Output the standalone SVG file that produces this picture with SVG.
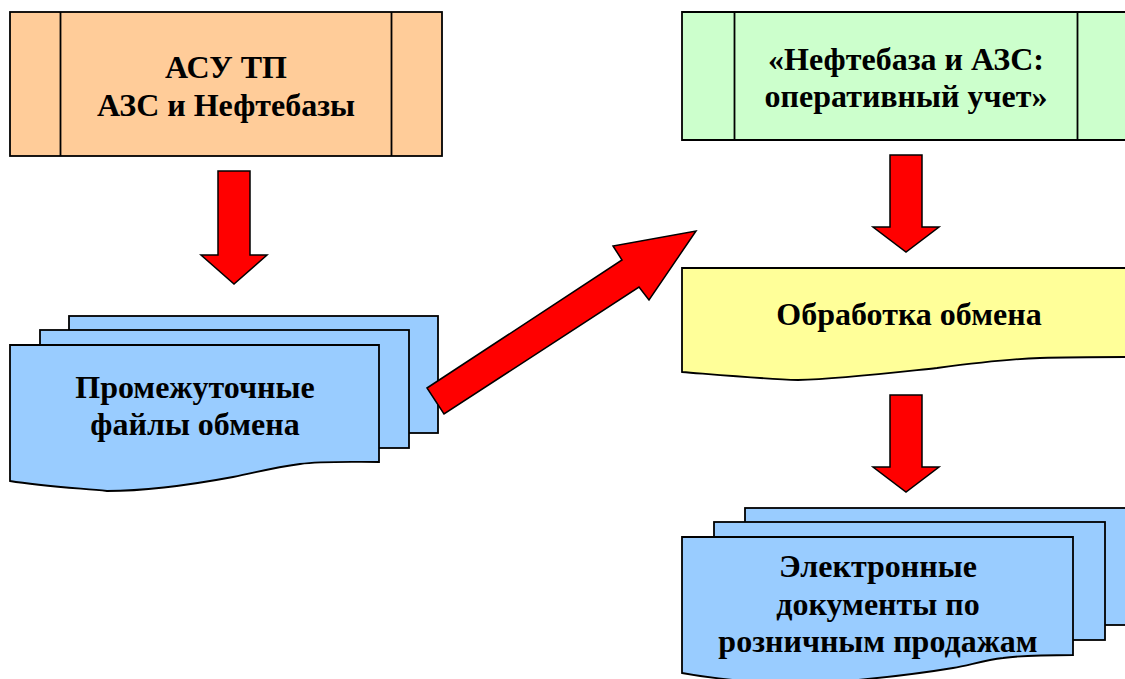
<svg xmlns="http://www.w3.org/2000/svg" width="1125" height="679" viewBox="0 0 1125 679">
<style>
.s{stroke:#000;stroke-width:1.8}
.o{fill:#ffcc99}.g{fill:#ccffcc}.y{fill:#ffff99}.b{fill:#99ccff}
.a{fill:#ff0000;stroke:#000;stroke-width:1.5}
text{font-family:"Liberation Serif",serif;font-weight:bold;font-size:32px;fill:#000;text-anchor:middle}
</style>
<rect width="1125" height="679" fill="#fff"/>
<g id="asu">
<rect class="s o" x="10" y="12" width="432" height="144"/>
<path class="s" fill="none" d="M60.500 12V156M391.500 12V156"/>
<text x="226" y="78">АСУ ТП</text><text x="226" y="116">АЗС и Нефтебазы</text>
</g>
<g id="oper">
<path class="s g" d="M1127 12H682V140H1127"/>
<path class="s" fill="none" d="M734.500 12V140M1077.500 12V140"/>
<text x="906" y="70">«Нефтебаза и АЗС:</text><text x="906" y="107">оперативный учет»</text>
</g>
<g id="files">
<rect class="s b" x="69" y="316" width="369" height="117"/>
<rect class="s b" x="40" y="330" width="369" height="118"/>
<path class="s b" d="M10 345H379V462C350 462 322 461 300 464C270 468 255 473 233 477C190 485 140 491 107 491C75 488 40 486 10 481Z"/>
<text x="195" y="398">Промежуточные</text><text x="195" y="435">файлы обмена</text>
</g>
<g id="proc">
<path class="s y" d="M1127 268H682V372C720 375 765 379 798 380C840 379 890 373 937 368C975 363 1010 359 1040 358C1070 357 1100 357 1127 357"/>
<text x="909" y="325">Обработка обмена</text>
</g>
<g id="docs">
<rect class="s b" x="745" y="508" width="382" height="117"/>
<rect class="s b" x="714" y="522" width="391" height="118"/>
<path class="s b" d="M682 537H1073V655C1045 655 1025 655 1003 658C985 660 970 665 953 668C905 676 830 684 785 684C750 682 715 679 682 673Z"/>
<text x="878" y="577">Электронные</text><text x="878" y="615">документы по</text><text x="878" y="652">розничным продажам</text>
</g>
<g id="connectors">
<path class="a" d="M218 171H250V255H267L234 284L201 255H218Z"/>
<path class="a" d="M890 155H922V227H939L906 252L873 227H890Z"/>
<path class="a" d="M890 395H922V467H939L906 492L873 467H890Z"/>
<path class="a" d="M427 388L622 260L613 246L696 231L649 300L639 287L444 414Z"/>
</g>
</svg>
